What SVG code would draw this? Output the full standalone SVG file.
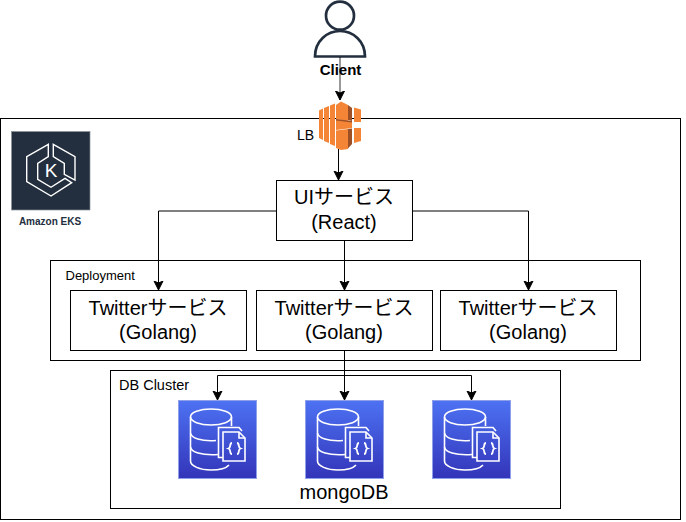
<svg xmlns="http://www.w3.org/2000/svg" width="686" height="522" viewBox="0 0 686 522">
<style>
text{font-family:"Liberation Sans","Noto Sans CJK JP",sans-serif;fill:#000}
.box{fill:#fff;stroke:#000;stroke-width:1}
.con{fill:none;stroke:#000;stroke-width:1;marker-end:url(#a)}
.big{font-size:20px;text-anchor:middle}
.db{fill:none;stroke:#fff;stroke-width:1.6}
.o{fill:#f58536}
.d{fill:#9d5025}
</style>
<defs>
<marker id="a" markerUnits="userSpaceOnUse" markerWidth="11" markerHeight="11" refX="9.500" refY="5.500" orient="auto"><path d="M0.500 1L9.500 5.500L0.500 10L2.500 5.500Z" fill="#000" stroke="#000" stroke-width="1"/></marker>
<linearGradient id="g" x1="0" y1="0" x2="0" y2="1"><stop offset="0" stop-color="#4d72f3"/><stop offset="1" stop-color="#3334b9"/></linearGradient>
<g id="dbi">
<rect x="0.500" y="0.500" width="78" height="78" fill="url(#g)" stroke="#8f9fe8"/>
<g class="db">
<ellipse cx="33" cy="17" rx="20.500" ry="8"/>
<path d="M12.500 17V61C12.500 66 22 70 33 70C40 70 48 68.500 51 65"/>
<path d="M53.500 17V26M12.500 33C13 38 23 41.500 38 40.500M12.500 47C13 52 23 55.500 40 54.500"/>
<path d="M45 57.500H40.500V27.500H61L64 31"/>
<path d="M45 61V32H61L67 38V61Z"/>
<path d="M61 32V38H67"/>
<path d="M54 43C51 43 53.500 47.500 50.500 48.500C53.500 49.500 51 54 54 54M59 43C62 43 59.500 47.500 62.500 48.500C59.500 49.500 62 54 59 54" stroke-width="1.800"/>
</g>
</g>
</defs>
<rect width="686" height="522" fill="#fff"/>
<g id="cluster"><rect class="box" x="0.500" y="118.500" width="680" height="401"/></g>
<g id="deployment"><rect class="box" x="50.500" y="260.500" width="590" height="100"/><text x="65.500" y="280" font-size="13">Deployment</text></g>
<g id="dbcluster"><rect class="box" x="110.500" y="370.500" width="450" height="138"/><text x="119" y="390" font-size="14.500">DB Cluster</text></g>
<g id="eks">
<rect x="11.500" y="131.500" width="78.500" height="78.500" fill="#232f3e" stroke="#8a929b" stroke-width="0.700"/>
<path d="M48.300 144.300L26.700 156.700V181.700L51 196L71.700 182.700L65 178.300L51 187.300L37.700 179.300V163.300L48.300 156.700ZM53.300 144.300L75 156.700V180L64.300 174.300V163.300L53.300 156.700Z" fill="none" stroke="#fff" stroke-width="1.400"/>
<text x="51" y="177" font-size="19" text-anchor="middle" style="fill:#fff">K</text>
<text x="50" y="225" font-size="10" font-weight="700" text-anchor="middle" style="fill:#232f3e">Amazon EKS</text>
</g>
<g id="client">
<circle cx="340" cy="15.700" r="14" fill="#fff" stroke="#232f3e" stroke-width="2.700"/>
<path d="M315 56.500C315 41 327 31 340 31C353 31 365 41 365 56.500Z" fill="#fff" stroke="#232f3e" stroke-width="2.700"/>
</g>
<g id="connectors">
<path class="con" d="M340 57V100" stroke-opacity="0.800"/>
<path class="con" d="M338.500 149V180"/>
<path class="con" d="M276 211H158.500V290"/>
<path class="con" d="M344.500 240V290"/>
<path class="con" d="M412 211H528.500V290"/>
<path class="con" d="M344.500 350V400"/>
<path class="con" d="M344.500 375.500H217.500V400"/>
<path class="con" d="M344.500 375.500H471.500V400"/>
</g>
<text x="340.500" y="74.700" font-size="15" font-weight="700" text-anchor="middle">Client</text>
<g id="lb">
<path class="o" d="M319 110.500L323 108.500V140L319 138Z"/>
<path class="o" d="M324 108L329 106V143L324 141Z"/>
<path class="o" d="M330 105.500L335 103.500V146L330 144Z"/>
<path class="o" d="M336 105L341 101.500L348 105V121L336 119Z"/>
<path class="d" d="M348 105L352 108V121L348 120Z"/>
<path class="o" d="M336 119L352 121.500V128L336 130Z"/>
<path class="d" d="M336 119L352 121V122.500L336 120.500Z"/>
<path class="o" d="M354 107.500L361 109.500V122H354Z"/>
<path class="o" d="M354 128H361V141L354 143Z"/>
<path class="o" d="M336 130.500L348 129V149L341 150L336 148Z"/>
<path class="d" d="M348 129L352 128.500V144L348 148.500Z"/>
<text x="297" y="140" font-size="14">LB</text>
</g>
<g id="ui"><rect class="box" x="276.500" y="180.500" width="136" height="60"/><text class="big" x="344" y="204">UIサービス</text><text class="big" x="344" y="229">(React)</text></g>
<g id="t1"><rect class="box" x="70.500" y="290.500" width="176" height="60"/><text class="big" x="158" y="315">Twitterサービス</text><text class="big" x="158" y="339">(Golang)</text></g>
<g id="t2"><rect class="box" x="256.500" y="290.500" width="176" height="60"/><text class="big" x="344" y="315">Twitterサービス</text><text class="big" x="344" y="339">(Golang)</text></g>
<g id="t3"><rect class="box" x="440.500" y="290.500" width="176" height="60"/><text class="big" x="528" y="315">Twitterサービス</text><text class="big" x="528" y="339">(Golang)</text></g>
<g id="db1"><use href="#dbi" x="178" y="400"/></g>
<g id="db2"><use href="#dbi" x="305" y="400"/><text x="344" y="499" font-size="20" text-anchor="middle">mongoDB</text></g>
<g id="db3"><use href="#dbi" x="432" y="400"/></g>
</svg>
